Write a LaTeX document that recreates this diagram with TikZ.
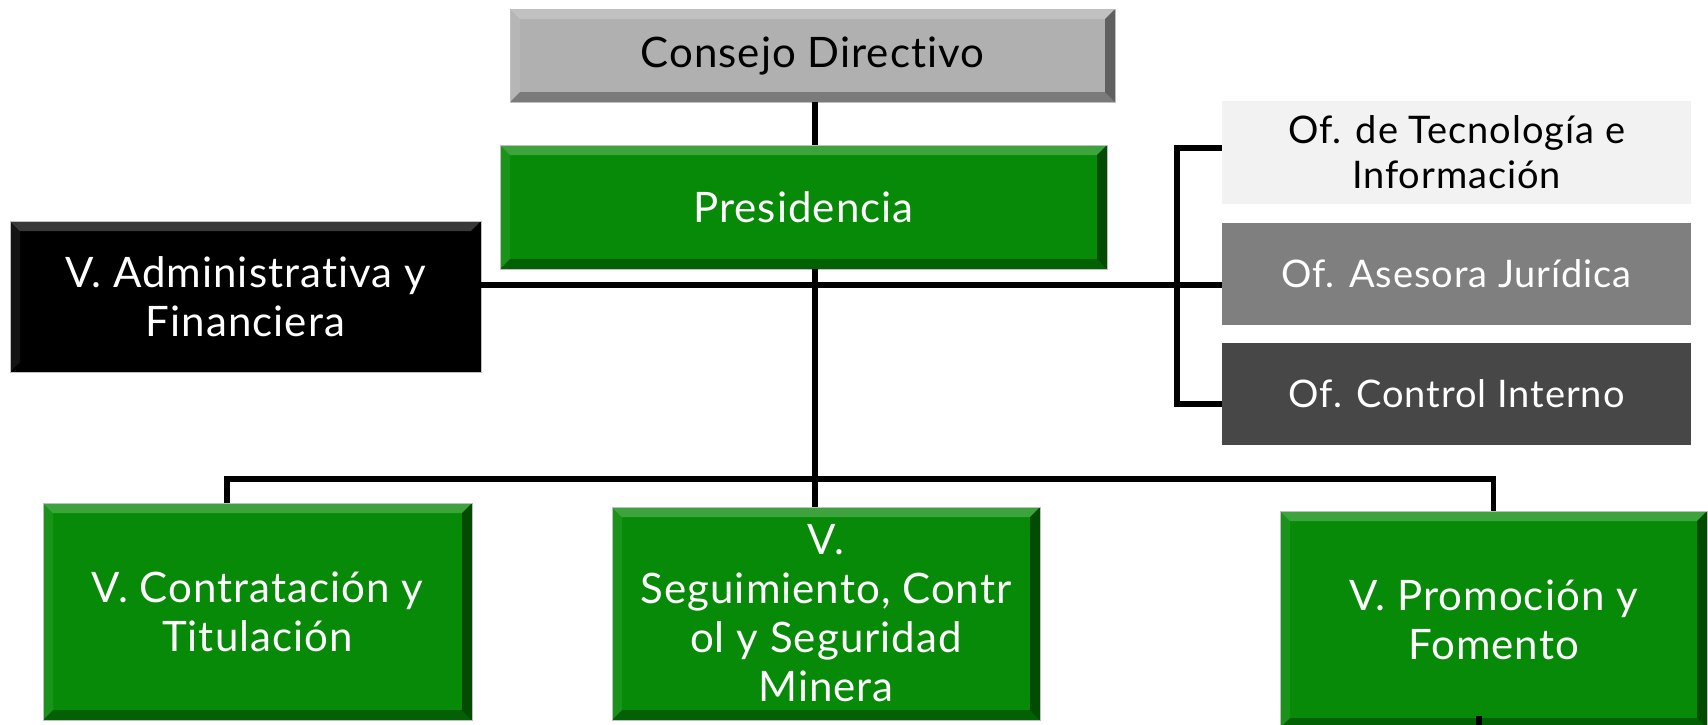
\documentclass[tikz,border=0pt]{standalone}
\usepackage{fontspec}
\setmainfont{Lato}[Ligatures={NoCommon},LetterSpace=2.5]
\definecolor{vgreen}{HTML}{078A07}
\definecolor{cgrey}{HTML}{B0B0B0}
\definecolor{oflight}{HTML}{F2F2F2}
\definecolor{ofmid}{HTML}{7F7F7F}
\definecolor{ofdark}{HTML}{474747}
\begin{document}
\begin{tikzpicture}
        [x=0.5pt,y=-0.5pt,
        every node/.style={rectangle,inner sep=0pt,align=center},
        bevel/.style={path picture={
            \path (path picture bounding box.north west) coordinate (bnw)
                  (path picture bounding box.north east) coordinate (bne)
                  (path picture bounding box.south west) coordinate (bsw)
                  (path picture bounding box.south east) coordinate (bse);
            \fill[white,opacity=.22] (bnw) -- (bne) -- ([shift={(-5pt,-5pt)}]bne) -- ([shift={(5pt,-5pt)}]bnw) -- cycle;
            \fill[white,opacity=.08] (bnw) -- (bsw) -- ([shift={(5pt,5pt)}]bsw) -- ([shift={(5pt,-5pt)}]bnw) -- cycle;
            \fill[black,opacity=.3] (bsw) -- (bse) -- ([shift={(-5pt,5pt)}]bse) -- ([shift={(5pt,5pt)}]bsw) -- cycle;
            \fill[black,opacity=.45] (bne) -- (bse) -- ([shift={(-5pt,5pt)}]bse) -- ([shift={(-5pt,-5pt)}]bne) -- cycle;
        }},
        unit/.style={bevel,draw=black!25,line width=0.4pt,text=white,
            font=\fontsize{21}{24.5}\selectfont},
        office/.style={minimum width=234.5pt,minimum height=51pt,
            font=\fontsize{19}{22.5}\selectfont},
        conn/.style={line width=2.6pt,black}]
        \useasboundingbox (0,0) rectangle (1708,724);
        % top
        \node[unit,fill=cgrey,text=black,minimum width=302.5pt,minimum height=46.5pt]
            (cons) at (812.5,55.5) {Consejo Directivo};
        \node[unit,fill=vgreen,minimum width=303.5pt,minimum height=62pt]
            (pres) at (803.5,207) {Presidencia};
        \node[unit,fill=black,minimum width=235.5pt,minimum height=75.5pt]
            (admin) at (245.5,296.5) {V. Administrativa y\\Financiera};
        % offices
        \node[office,fill=oflight,minimum height=51.5pt] (tec) at (1456.5,152.5)
            {Of. de Tecnología e\\Información};
        \node[office,fill=ofmid,text=white] (ases) at (1456.5,274) {Of. Asesora Jurídica};
        \node[office,fill=ofdark,text=white] (ctl) at (1456.5,394) {Of. Control Interno};
        % vice presidencies
        \node[unit,fill=vgreen,minimum width=214.5pt,minimum height=108.5pt]
            (cont) at (257.5,611.5) {V. Contratación y\\Titulación};
        \node[unit,fill=vgreen,minimum width=214pt,minimum height=106.5pt]
            (seg) at (826,613.5) {V.\\Seguimiento, Contr\\ol y Seguridad\\Minera};
        \node[unit,fill=vgreen,minimum width=213.5pt,minimum height=108.5pt]
            (prom) at (1493.5,619.5) {V. Promoción y\\Fomento};
        % connectors
        \coordinate (bus) at (815,479);
        \coordinate (stub) at (1479,716);
        \draw[conn] (cons.south -| bus) -- (pres.north -| bus);
        \draw[conn] (pres.south -| bus) -- (seg.north -| bus);
        \draw[conn] (cont.north -| 227,0) |- (bus) -| (prom.north);
        \draw[conn] (admin.east |- 0,285) -- (ases.west |- 0,285);
        \draw[conn] (tec.west |- 0,148) -| (1177,404) -- (ctl.west |- 0,404);
        \draw[conn] (stub) -- (stub |- prom.south);
    \end{tikzpicture}
\end{document}
